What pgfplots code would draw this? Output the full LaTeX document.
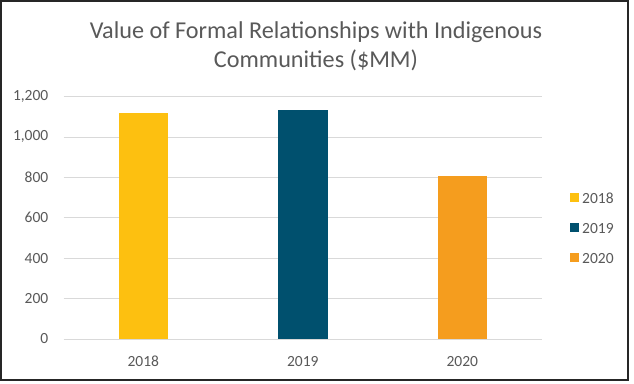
\documentclass[border=0pt]{standalone}
\usepackage{fontspec}
\setmainfont{Carlito}
\usepackage{pgfplots}
\pgfplotsset{compat=1.18}
\definecolor{cA}{HTML}{FDC010}
\definecolor{cB}{HTML}{00506E}
\definecolor{cC}{HTML}{F59D1E}
\definecolor{txt}{HTML}{595959}
\definecolor{gridc}{HTML}{D9D9D9}
\begin{document}
\begin{tikzpicture}[x=1bp,y=1bp]
\path[use as bounding box] (0,0) rectangle (634,383);
\fill[white] (0,0) rectangle (634,383);
\draw[black!85,line width=2bp] (1,3) rectangle (628,382);
\node[anchor=base,text=txt,font=\fontsize{24.2bp}{29bp}\selectfont,inner sep=0pt] at (316,345) {Value of Formal Relationships with Indigenous};
\node[anchor=base,text=txt,font=\fontsize{24.2bp}{29bp}\selectfont,inner sep=0pt] at (316,316) {Communities (\$MM)};
\begin{axis}[
  at={(63.5bp,44bp)}, anchor=south west,
  scale only axis, width=478.5bp, height=242.5bp,
  xmin=-0.5, xmax=2.5, ymin=0, ymax=1200,
  ytick={0,200,...,1200},
  xtick={0,1,2}, xticklabels={2018,2019,2020},
  ymajorgrids, grid style={gridc, line width=0.8bp},
  axis line style={draw=none},
  major tick length=0pt,
  tick style={draw=none},
  /pgf/number format/.cd, 1000 sep={,}, assume math mode=true, /pgfplots/.cd,
  yticklabel style={anchor=east, inner sep=0pt, xshift=-15bp, text=txt, font=\fontsize{15.5bp}{18bp}\selectfont},
  xticklabel style={anchor=north, inner sep=0pt, yshift=-17bp, text=txt, font=\fontsize{15.5bp}{18bp}\selectfont},
  legend style={at={(1.0585,0.603)}, anchor=north west, draw=none, fill=none, inner sep=0pt,
    font=\fontsize{15.5bp}{18bp}\selectfont, text=txt,
    row sep=19bp,
    nodes={inner sep=0pt, text height=11bp, text depth=0pt},
    /tikz/every odd column/.append style={column sep=3bp}},
  legend cell align=left,
  legend image code/.code={\fill[#1,draw=none] (0bp,-4bp) rectangle (9bp,5bp);},
]
\addplot[ybar, bar width=49.5bp, bar shift=0pt, fill=cA, draw=none] coordinates {(0,1120)};
\addplot[ybar, bar width=49.5bp, bar shift=0pt, fill=cB, draw=none] coordinates {(1,1132)};
\addplot[ybar, bar width=49.5bp, bar shift=0pt, fill=cC, draw=none] coordinates {(2,806)};
\legend{2018,2019,2020}
\end{axis}
\end{tikzpicture}
\end{document}
